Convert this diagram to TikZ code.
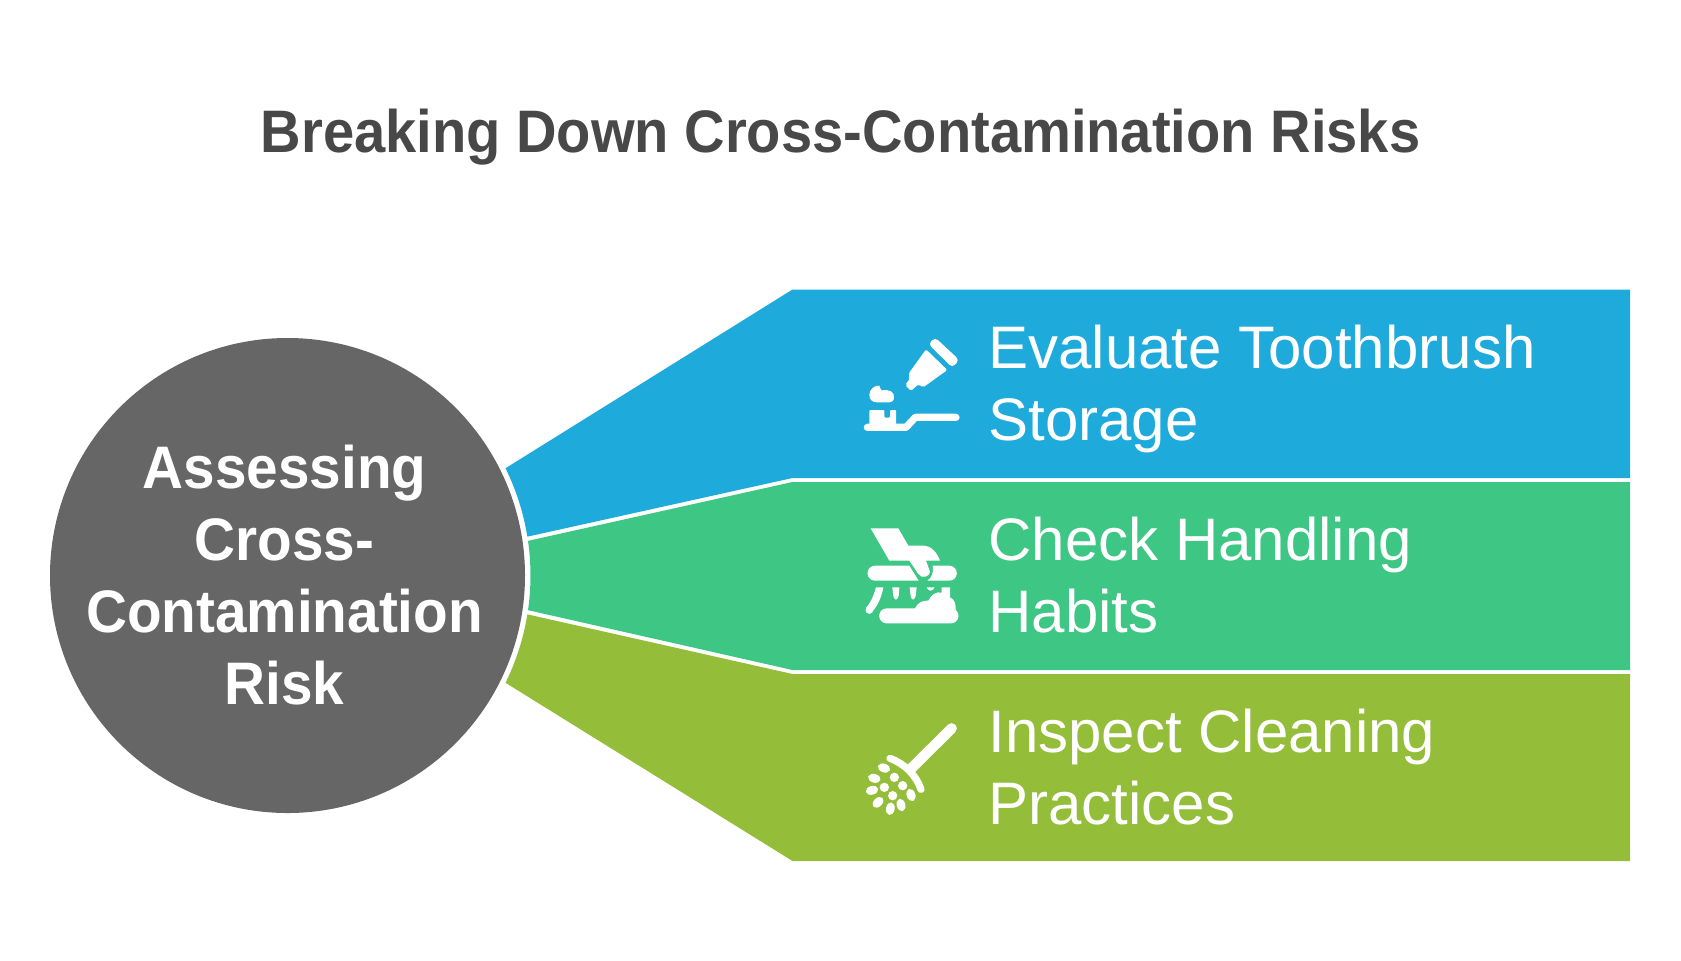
\documentclass[tikz,border=0pt]{standalone}
\usepackage{fontspec}
\usetikzlibrary{calc}
\setmainfont{Liberation Sans}
\newfontfamily\narrowfont{Liberation Sans}[FakeStretch=0.945]
\newfontfamily\titlefont{Liberation Sans}[FakeStretch=0.935]
\definecolor{bandblue}{HTML}{1EAADB}
\definecolor{bandgreen}{HTML}{3EC685}
\definecolor{bandolive}{HTML}{94BD39}
\definecolor{hubgray}{HTML}{666666}
\definecolor{titlegray}{HTML}{484848}
\tikzset{
    itemtext/.style={anchor=west,align=left,text=white,inner sep=0pt,font=\fontsize{30}{36}\selectfont},
    hubtext/.style={align=center,text=white,inner sep=0pt,font=\fontsize{30}{36}\selectfont\narrowfont\bfseries},
    titletext/.style={text=titlegray,inner sep=0pt,font=\fontsize{30}{36}\selectfont\titlefont\bfseries},
    icon/.style={shift={#1},scale=1/3},
}
\begin{document}
\begin{tikzpicture}[x=.5pt,y=-.5pt]
    \useasboundingbox (0,0) rectangle (1681,960);
    \coordinate (hub) at (287.5,575.5);

    % bands
    \fill [bandblue] ($(hub)+(-26.2:243)$) arc [start angle=-26.2,end angle=-9.2,radius=243]
        -- (792.5,478) -- (1630,478) -- (1630,289.5) -- (792.5,289.5) -- cycle;
    \fill [bandgreen] ($(hub)+(-8.2:243)$) arc [start angle=-8.2,end angle=8.2,radius=243]
        -- (792.5,670) -- (1630,670) -- (1630,482) -- (792.5,482) -- cycle;
    \fill [bandolive] ($(hub)+(9.2:243)$) arc [start angle=9.2,end angle=26.2,radius=243]
        -- (792.5,861) -- (1630,861) -- (1630,674) -- (792.5,674) -- cycle;
    \fill [hubgray] (hub) circle (237.5);

    \node [titletext] (title) at (840.5,137.5) {Breaking Down Cross-Contamination Risks};
    \node [hubtext] (assess) at (284.5,575) {Assessing\\Cross-\\Contamination\\Risk};
    \node [itemtext] (storage) at (988,389) {Evaluate Toothbrush\\Storage};
    \node [itemtext] (habits) at (988,575) {Check Handling\\Habits};
    \node [itemtext] (practices) at (988,767) {Inspect Cleaning\\Practices};

    % toothbrush and paste
    \begin{scope}[icon={(840,320)},white]
        \fill [rounded corners=2pt] (285,52) -- (358,120) -- (337,143) -- (265,72) -- cycle;
        \fill [rounded corners=1pt] (258,88) -- (322,150) -- (248,203) -- (236,192)
            -- (213,213) -- (195,195) -- (210,176) -- (205,162) -- cycle;
        \fill (88,225) .. controls (88,207) and (105,195) .. (118,197)
            .. controls (122,203) and (120,209) .. (125,211)
            .. controls (150,208) and (163,215) .. (162,232)
            .. controls (162,243) and (155,247) .. (148,247)
            -- (110,247) .. controls (97,247) and (88,238) .. (88,225) -- cycle;
        \draw [line width=3.6pt,line cap=round,line join=round] (82,322) -- (198,322) -- (226,292) -- (348,292);
        \fill [rounded corners=.5pt] (88,315) -- (88,270) -- (133,270) -- (133,293) -- (150,293) -- (150,270) -- (168,270) -- (168,315) -- cycle;
    \end{scope}

    % hand and scrubbing brush
    \begin{scope}[icon={(840,510)},white]
        \fill (92,55) -- (175,55) -- (205,107) -- (250,107)
            .. controls (275,107) and (292,130) .. (300,152) -- (258,152)
            -- (270,185) .. controls (270,200) and (245,208) .. (235,192)
            -- (208,152) -- (148,152) -- cycle;
        \fill (105,167) -- (208,167) -- (236,212) -- (105,212) arc [start angle=90,end angle=270,radius=22.5] -- cycle;
        \fill (278,167) -- (328,167) arc [start angle=-90,end angle=90,radius=22.5] -- (262,212)
            .. controls (275,205) and (282,185) .. (278,167) -- cycle;
        \fill (108,232) -- (130,232) .. controls (125,262) and (112,288) .. (97,305)
            -- (79,293) .. controls (92,277) and (100,260) .. (108,232) -- cycle;
        \fill (88,300) circle (11.5);
        \fill (157,232) -- (178,232) -- (176,258) .. controls (172,272) and (163,272) .. (160,258) -- cycle;
        \fill (209,232) -- (230,232) -- (227,258) .. controls (223,272) and (214,272) .. (212,258) -- cycle;
        \fill (260,232) -- (283,232) .. controls (280,245) and (264,245) .. (260,232) -- cycle;
        \fill (305,232) -- (330,232) -- (330,262) .. controls (345,268) and (348,285) .. (347,300)
            -- (330,320) -- (230,320) -- (225,295)
            .. controls (232,278) and (250,270) .. (265,272)
            .. controls (272,255) and (290,243) .. (305,248) -- cycle;
        \fill (140,295) -- (333,295) arc [start angle=-90,end angle=90,radius=22.5] -- (140,340) arc [start angle=90,end angle=270,radius=22.5] -- cycle;
    \end{scope}

    % cleaning brush
    \begin{scope}[icon={(840,700)},white]
        \draw [line width=5.2pt,line cap=round] (335,85) -- (212,207);
        \draw [line width=3.6pt,line cap=round] (150,175) .. controls (195,192) and (228,225) .. (243,268);
        \foreach \x/\y/\a in {132/204/-20,103/235/-15,96/271/15,114/307/45,151/326/80,183/315/-75,213/285/-70}
            {\fill [shift={(\x,\y)},rotate=\a] (0,0) ellipse [x radius=19,y radius=13];}
        \foreach \x/\y in {163/232,133/262,188/257,158/287}
            {\fill (\x,\y) circle (14);}
    \end{scope}
\end{tikzpicture}
\end{document}
